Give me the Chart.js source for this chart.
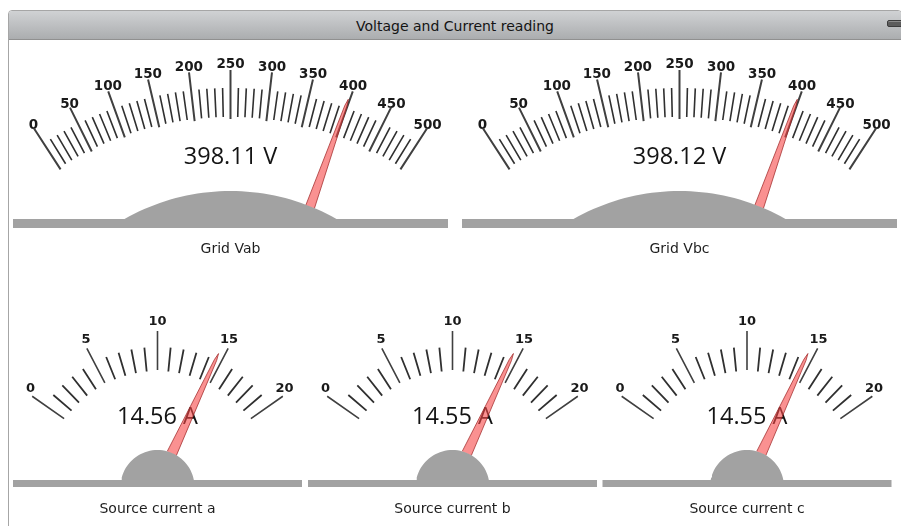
<!DOCTYPE html>
<html>
<head>
<meta charset="utf-8">
<title>Voltage and Current reading</title>
<script src="https://cdn.jsdelivr.net/npm/chart.js@4.4.1/dist/chart.umd.min.js"></script>
<style>
  html, body { margin: 0; padding: 0; background: #fff; }
  body { width: 901px; height: 526px; overflow: hidden; position: relative; font-family: "DejaVu Sans", sans-serif; }
  #frame { position: absolute; left: 8px; top: 10px; width: 892px; height: 530px; border: 1px solid #a6a6a6; border-radius: 4px 4px 0 0; background: #fff; }
  #titlebar { height: 28px; line-height: 30px; text-align: center; font-size: 14px; color: #141414;
              background: linear-gradient(#d0d2d4, #abadaf); border-bottom: 1px solid #909090; border-radius: 3px 3px 0 0; }
  #minbtn { position: absolute; left: 887px; top: 20px; width: 20px; height: 5px; background: #5c5c5c;
            border: 1px solid #3c3c3c; border-radius: 2px; box-shadow: inset 0 1px #8a8a8a; }
  #gauges { position: absolute; left: 0; top: 0; }
</style>
</head>
<body>
<div id="frame"><div id="titlebar">Voltage and Current reading</div></div>
<div id="minbtn"></div>
<canvas id="gauges" width="901" height="526"></canvas>
<script>
// readings
var voltageTicks = [0, 50, 100, 150, 200, 250, 300, 350, 400, 450, 500];
var voltageValues = [398.11, 398.12];
var voltageNames = ['Grid Vab', 'Grid Vbc'];

var currentTicks = [0, 5, 10, 15, 20];
var currentValues = [14.56, 14.55, 14.55];
var currentNames = ['Source current a', 'Source current b', 'Source current c'];

// layout of the two kinds of meter (page pixels)
var voltageLook = {
    unit: 'V', centers: [230.5, 679.5], py: 431, sweep: 33, minorStep: 10,
    majorIn: 312, majorOut: 361, minorIn: 314, minorOut: 343, majorWidth: 2, minorWidth: 1.6,
    labelR: 362, labelDy: -4.5, labelDrop: 18, labelFont: 'bold 13.5px "DejaVu Sans"',
    needleBaseW: 4.6, needleTip: 352,
    domeCy: 405.6, domeR: 214.6, barTop: 219, barBottom: 228, barHalf: 217.5,
    valueY: 157.5, valueFont: '23.5px "Open Sans"', nameY: 249.5
};
var currentLook = {
    unit: 'A', centers: [157.5, 452.5, 747], py: 484, sweep: 55, minorStep: 1,
    majorIn: 114, majorOut: 153, minorIn: 113, minorOut: 137, majorWidth: 1.6, minorWidth: 1.8,
    labelR: 155, labelDy: -7, labelDrop: 2, labelFont: 'bold 13px "DejaVu Sans"',
    needleBaseW: 5, needleTip: 144,
    domeCy: 487, domeR: 37, barTop: 480, barBottom: 487, barHalf: 144.5,
    valueY: 417.5, valueFont: '23.5px "Open Sans"', nameY: 509.5
};

function angleOf(look, ticks, v) {
    var min = ticks[0], max = ticks[ticks.length - 1];
    return (-look.sweep + 2 * look.sweep * (v - min) / (max - min)) * Math.PI / 180;
}
function polar(cx, py, a, r, off) {
    off = off || 0;
    return { x: cx + r * Math.sin(a) + off * Math.cos(a), y: py - r * Math.cos(a) + off * Math.sin(a) };
}
// distance from the pivot along the needle to the edge of the dome
function domeEdge(look, a) {
    var wy = look.py - look.domeCy;
    var wd = -wy * Math.cos(a);
    return -wd + Math.sqrt(wd * wd - wy * wy + look.domeR * look.domeR);
}

var datasets = [];
var texts = [];

function addGauges(look, ticks, values, names) {
    var min = ticks[0], max = ticks[ticks.length - 1];
    look.centers.forEach(function(cx, i) {
        var py = look.py;
        // base bar with dome
        var shape = [{ x: cx - look.barHalf, y: look.barTop }];
        var h = Math.acos((look.domeCy - look.barTop) / look.domeR);
        for (var k = 0; k <= 40; k++) {
            var t = -h + 2 * h * k / 40;
            shape.push({ x: cx + look.domeR * Math.sin(t), y: look.domeCy - look.domeR * Math.cos(t) });
        }
        shape.push({ x: cx + look.barHalf, y: look.barTop }, { x: cx + look.barHalf, y: look.barBottom },
                   { x: cx - look.barHalf, y: look.barBottom }, { x: cx - look.barHalf, y: look.barTop });
        datasets.push({ data: shape, showLine: true, fill: 'shape', backgroundColor: '#a2a2a2',
                        borderWidth: 0, borderColor: 'rgba(0,0,0,0)', pointRadius: 0 });

        // needle, starting where it leaves the dome
        var a = angleOf(look, ticks, values[i]);
        var base = domeEdge(look, a) - 0.6;
        var needle = [
            polar(cx, py, a, base, look.needleBaseW),
            polar(cx, py, a, look.needleTip - 7, 1.2),
            polar(cx, py, a, look.needleTip, 0),
            polar(cx, py, a, look.needleTip - 7, -1.2),
            polar(cx, py, a, base, -look.needleBaseW)
        ];
        datasets.push({ data: needle, showLine: true, fill: 'shape', backgroundColor: 'rgba(246,72,72,0.6)',
                        borderColor: 'rgba(160,40,40,0.75)', borderWidth: 1, pointRadius: 0 });

        // minor and major scale marks
        var minor = [], major = [];
        for (var v = min; v <= max + 1e-9; v += look.minorStep) {
            var ang = angleOf(look, ticks, v);
            if (ticks.indexOf(v) >= 0) {
                major.push(polar(cx, py, ang, look.majorIn), polar(cx, py, ang, look.majorOut), { x: null, y: null });
            } else {
                minor.push(polar(cx, py, ang, look.minorIn), polar(cx, py, ang, look.minorOut), { x: null, y: null });
            }
        }
        datasets.push({ data: minor, showLine: true, borderColor: '#303030', borderWidth: look.minorWidth,
                        borderCapStyle: 'butt', pointRadius: 0 });
        datasets.push({ data: major, showLine: true, borderColor: '#404040', borderWidth: look.majorWidth,
                        borderCapStyle: 'butt', pointRadius: 0 });

        ticks.forEach(function(tv) {
            var ta = angleOf(look, ticks, tv);
            var p = polar(cx, py, ta, look.labelR);
            var dy = look.labelDy + look.labelDrop * (1 - Math.cos(ta));
            texts.push({ layer: 'under', text: String(tv), x: p.x, y: p.y + dy, font: look.labelFont, color: '#1a1a1a' });
        });
        texts.push({ layer: 'under', text: values[i].toFixed(2) + ' ' + look.unit, x: cx, y: look.valueY,
                     font: look.valueFont, color: '#141414' });
        texts.push({ layer: 'over', text: names[i], x: cx, y: look.nameY, font: '14px "DejaVu Sans"', color: '#1e1e1e' });
    });
}

addGauges(voltageLook, voltageTicks, voltageValues, voltageNames);
addGauges(currentLook, currentTicks, currentValues, currentNames);

function drawTexts(chart, layer) {
    var ctx = chart.ctx, xs = chart.scales.x, ys = chart.scales.y;
    ctx.save();
    ctx.textAlign = 'center';
    ctx.textBaseline = 'middle';
    texts.forEach(function(t) {
        if (t.layer !== layer) return;
        ctx.font = t.font;
        ctx.fillStyle = t.color;
        ctx.fillText(t.text, xs.getPixelForValue(t.x), ys.getPixelForValue(t.y));
    });
    ctx.restore();
}

var gaugeText = {
    id: 'gaugeText',
    beforeDatasetsDraw: function(chart) { drawTexts(chart, 'under'); },
    afterDatasetsDraw: function(chart) { drawTexts(chart, 'over'); }
};

new Chart(document.getElementById('gauges'), {
    type: 'scatter',
    data: { datasets: datasets },
    options: {
        responsive: false,
        animation: false,
        events: [],
        layout: { padding: 0 },
        plugins: { legend: { display: false }, tooltip: { enabled: false } },
        scales: {
            x: { type: 'linear', min: 0, max: 901, display: false },
            y: { type: 'linear', min: 0, max: 526, reverse: true, display: false }
        }
    },
    plugins: [gaugeText]
});
</script>
</body>
</html>
